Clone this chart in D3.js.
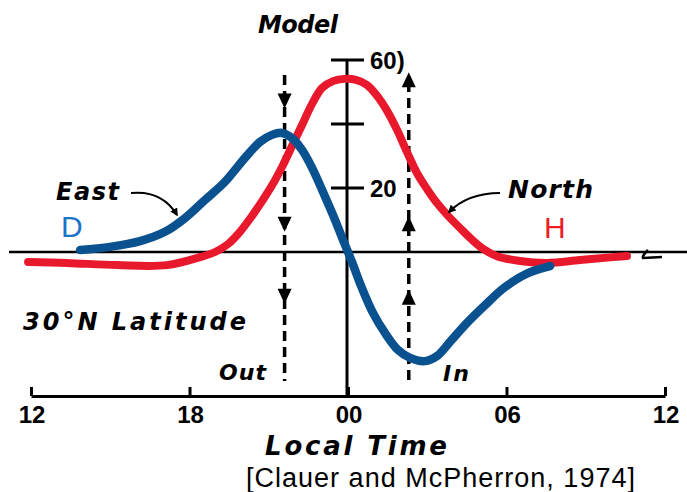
<!DOCTYPE html>
<html>
<head>
<meta charset="utf-8">
<script src="https://cdn.jsdelivr.net/npm/d3@7"></script>
<style>
html,body{margin:0;padding:0;background:#fff;}
svg{display:block;}
</style>
</head>
<body>
<script>
// ---- data (local time in hours relative to midnight, value in model units) ----
const hTimes  = [-12.11,-10.64,-8.74,-6.85,-5.60,-5.03,-4.54,-4.09,-3.63,-3.22,-2.84,-2.46,-2.12,-1.74,-1.36,-0.98,-0.57,-0.15,0.30,0.72,1.10,1.48,1.86,2.23,2.61,2.99,3.37,3.79,4.24,4.66,5.11,5.64,6.51,7.53,8.78,10.03,10.56];
const hValues = [-3.1,-3.4,-4.1,-4.1,-1.6,0.0,2.5,6.3,11.3,16.3,21.3,27.2,33.1,39.7,46.3,51.3,53.4,54.1,53.8,52.2,48.8,44.1,38.1,31.3,24.7,19.7,15.3,11.3,7.5,4.1,1.0,-1.3,-2.8,-3.4,-2.5,-1.6,-1.25];
const dTimes  = [-10.14,-9.01,-7.87,-6.93,-6.17,-5.41,-4.66,-3.90,-3.33,-2.88,-2.50,-2.12,-1.74,-1.36,-0.98,-0.57,-0.19,0.15,0.53,0.95,1.40,1.89,2.35,2.91,3.37,3.86,4.43,5.19,5.94,6.81,7.65];
const dValues = [0.6,1.6,3.4,6.3,10.6,16.3,21.9,29.4,34.4,36.6,37.2,35.6,31.9,26.3,19.4,11.6,3.8,-3.1,-11.3,-19.1,-25.3,-30.6,-33.1,-34.1,-32.5,-28.1,-22.8,-16.6,-11.0,-6.6,-4.4];
const xTicks = [-12,-6,0,6,12];
const xTickLabels = ["12","18","00","06","12"];
const yTicks = [20,40,60];
const yTickLabels = ["20","","60)"];
const outArrowValues = [47,8.5,-14];   // down arrows on "Out" line
const inArrowValues  = [54,9,-14];     // up arrows on "In" line
const outTime = -2.4, inTime = 2.3;

const W = 687, H = 492;
const RED = "#e8192c", BLUE = "#0a5190";
const svg = d3.select("body").append("svg").attr("width",W).attr("height",H);

const x = d3.scaleLinear().domain([-12,12]).range([31,665]);
const y = d3.scaleLinear().domain([0,60]).range([252,60]);

const LETTER = "'DejaVu Sans', Verdana, sans-serif";
function label(t, px, py, o){
  const e = svg.append("text").attr("x",px).attr("y",py).text(t)
    .attr("font-family", o.family || LETTER)
    .attr("font-size", o.size || 22)
    .attr("font-weight", o.weight || "bold")
    .attr("font-style", o.style || "italic")
    .attr("fill", o.fill || "#000")
    .attr("text-anchor", o.anchor || "start");
  if (o.len) e.attr("textLength", o.len).attr("lengthAdjust", o.adjust || "spacing");
  return e;
}

// zero line
svg.append("line").attr("x1",9).attr("x2",W).attr("y1",y(0)).attr("y2",y(0))
  .attr("stroke","#000").attr("stroke-width",2.5);
// small glyph at right end of zero line
svg.append("path").attr("d","M648,250 C644,254 642,257 643,258 L662,257").attr("fill","none")
  .attr("stroke","#000").attr("stroke-width",2.5);

// vertical axis
svg.append("line").attr("x1",x(0)-1).attr("x2",x(0)-1).attr("y1",y(60)).attr("y2",396)
  .attr("stroke","#000").attr("stroke-width",3);
svg.selectAll(".ytick").data(yTicks).enter().append("line")
  .attr("x1",x(0)-17).attr("x2",x(0)+16).attr("y1",d=>y(d)).attr("y2",d=>y(d))
  .attr("stroke","#000").attr("stroke-width",3);
yTicks.forEach((d,i)=>{
  if (yTickLabels[i]) label(yTickLabels[i], x(0)+22, y(d)+9, {size:24, style:"normal",
    family:"'Liberation Sans', Arial, sans-serif"});
});

// x axis using d3 axis
const xAxis = d3.axisTop(x).tickValues(xTicks).tickFormat("").tickSize(9).tickSizeOuter(0);
const gx = svg.append("g").attr("transform","translate(0,396)").call(xAxis);
gx.select(".domain").attr("stroke","#000").attr("stroke-width",3);
gx.selectAll(".tick line").attr("stroke","#000").attr("stroke-width",3);
xTicks.forEach((d,i)=>{
  label(xTickLabels[i], x(d)+1, 423, {size:24, style:"normal", anchor:"middle",
    family:"'Liberation Sans Narrow','Arial Narrow','Liberation Sans',sans-serif"});
});

// dashed Out / In lines
svg.append("line").attr("x1",x(outTime)).attr("x2",x(outTime)).attr("y1",75).attr("y2",381)
  .attr("stroke","#000").attr("stroke-width",3.5).attr("stroke-dasharray","10,6");
svg.append("line").attr("x1",x(inTime)).attr("x2",x(inTime)).attr("y1",82).attr("y2",381)
  .attr("stroke","#000").attr("stroke-width",3.5).attr("stroke-dasharray","10,6");
outArrowValues.forEach(v=>{
  const cx = x(outTime), cy = y(v);
  svg.append("path").attr("d",`M${cx-7},${cy-8} L${cx+7},${cy-8} L${cx},${cy+7} Z`).attr("fill","#000");
});
inArrowValues.forEach(v=>{
  const cx = x(inTime), cy = y(v);
  svg.append("path").attr("d",`M${cx-7},${cy+8} L${cx+7},${cy+8} L${cx},${cy-7} Z`).attr("fill","#000");
});

// curves
const line = d3.line().x(d=>x(d[0])).y(d=>y(d[1])).curve(d3.curveCatmullRom.alpha(0.5));
svg.append("path").datum(d3.zip(hTimes,hValues)).attr("d",line)
  .attr("fill","none").attr("stroke",RED).attr("stroke-width",8)
  .attr("stroke-linecap","round").attr("stroke-linejoin","round");
svg.append("path").datum(d3.zip(dTimes,dValues)).attr("d",line)
  .attr("fill","none").attr("stroke",BLUE).attr("stroke-width",8.5)
  .attr("stroke-linecap","round").attr("stroke-linejoin","round");

// annotation arrows
svg.append("defs").append("marker").attr("id","ah").attr("viewBox","0 0 10 10")
  .attr("refX",8).attr("refY",5).attr("markerWidth",4).attr("markerHeight",4)
  .attr("orient","auto").append("path").attr("d","M0,0 L10,5 L0,10 Z").attr("fill","#000");
svg.append("path").attr("d","M131,193 Q162,190 177,215").attr("fill","none")
  .attr("stroke","#000").attr("stroke-width",2).attr("marker-end","url(#ah)");
svg.append("path").attr("d","M500,193 Q468,193 449,212").attr("fill","none")
  .attr("stroke","#000").attr("stroke-width",2).attr("marker-end","url(#ah)");

// labels
label("Model", 298, 33, {size:24, anchor:"middle", len:80});
label("East", 56, 200, {size:24, len:63});
label("North", 508, 198, {size:25, len:85});
label("D", 61, 237, {size:30, weight:"normal", style:"normal", fill:"#1a73c8",
  family:"'Liberation Sans', Arial, sans-serif"});
label("H", 544, 238, {size:30, weight:"normal", style:"normal", fill:"#ee1c25",
  family:"'Liberation Sans', Arial, sans-serif"});
label("30°N  Latitude", 23, 330, {size:24, len:223});
label("Out", 219, 380, {size:22, len:47});
label("In", 443, 381, {size:22, len:26});
label("Local  Time", 265, 455, {size:26, len:182});
label("[Clauer and McPherron, 1974]", 246, 487, {size:27, weight:"normal", style:"normal", len:389,
  family:"'Liberation Sans Narrow','Arial Narrow','Liberation Sans',sans-serif"});
</script>
</body>
</html>
